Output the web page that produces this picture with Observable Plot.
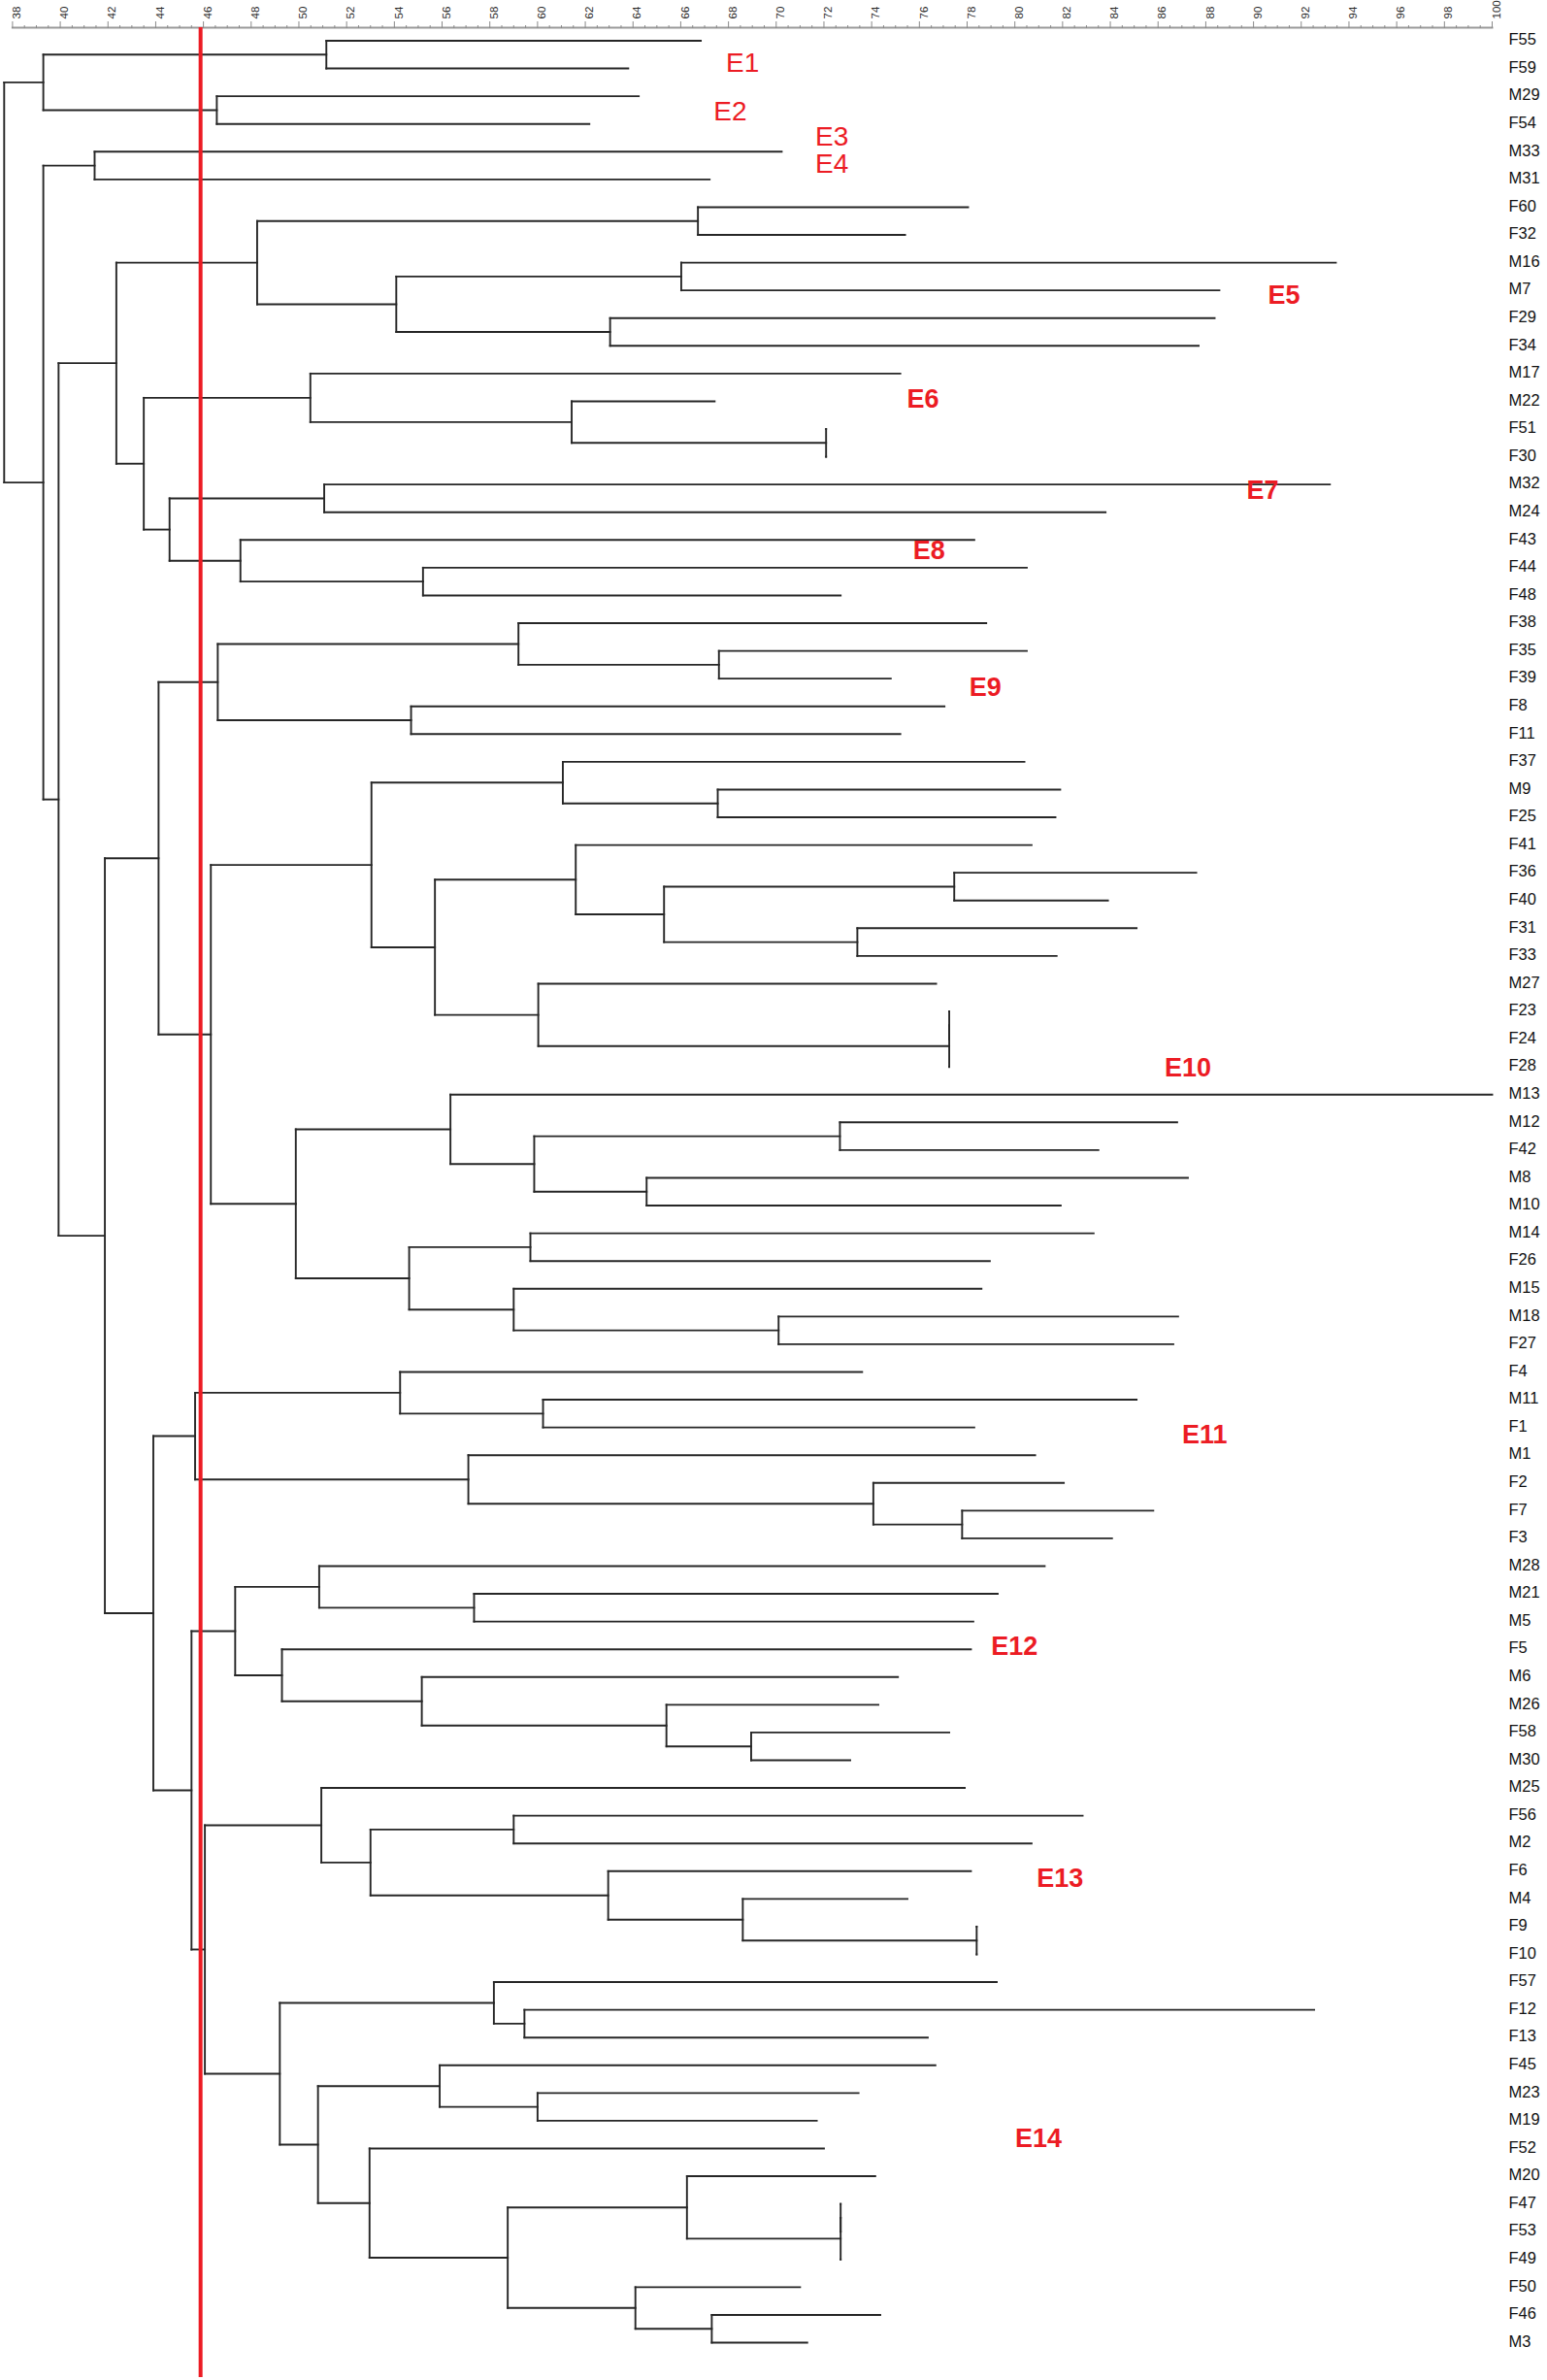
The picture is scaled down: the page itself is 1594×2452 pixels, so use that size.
<!DOCTYPE html>
<html><head><meta charset="utf-8">
<script src="https://cdn.jsdelivr.net/npm/d3@7"></script>
<script src="https://cdn.jsdelivr.net/npm/@observablehq/plot@0.6"></script>
<style>html,body{margin:0;padding:0;background:#fff;} svg{display:block}</style>
</head><body><div id="chart"></div>
<script>
// ---- data ----
const leaves = ["F55","F59","M29","F54","M33","M31","F60","F32","M16","M7","F29","F34","M17","M22","F51","F30",
"M32","M24","F43","F44","F48","F38","F35","F39","F8","F11","F37","M9","F25","F41","F36","F40","F31","F33","M27",
"F23","F24","F28","M13","M12","F42","M8","M10","M14","F26","M15","M18","F27","F4","M11","F1","M1","F2","F7","F3",
"M28","M21","M5","F5","M6","M26","F58","M30","M25","F56","M2","F6","M4","F9","F10","F57","F12","F13","F45","M23",
"M19","F52","M20","F47","F53","F49","F50","F46","M3"];
const leafEnd = [66.84,63.8,64.24,62.17,70.23,67.21,78.04,75.4,93.45,88.57,88.37,87.7,75.2,67.42,72.09,72.09,
93.2,83.8,78.3,80.5,72.7,78.8,80.5,74.8,77.05,75.2,80.4,81.9,81.7,80.7,87.6,83.9,85.1,81.75,76.7,
77.25,77.25,77.25,100,86.8,83.5,87.25,81.92,83.3,78.95,78.6,86.84,86.64,73.6,85.1,78.3,80.85,82.05,85.8,84.07,
81.25,79.28,78.26,78.16,75.1,74.28,77.25,73.1,77.9,82.84,80.7,78.16,75.5,78.4,78.4,79.24,92.54,76.35,76.67,73.45,
71.7,72.0,74.15,72.7,72.7,72.7,71.0,74.36,71.3];
// merges: [child A, child B, similarity]; "nK" = result of merges[K]
const merges = [
["F55","F59",51.15],["M29","F54",46.56],["n0","n1",39.29],["M33","M31",41.44],
["F60","F32",66.72],["M16","M7",66.02],["F29","F34",63.04],["n5","n6",54.08],["n4","n7",48.25],
["F51","F30",72.09],["M22","n9",61.43],["M17","n10",50.48],["M32","M24",51.06],["F44","F48",55.2],
["F43","n13",47.55],["n12","n14",44.58],["n11","n15",43.5],["n8","n16",42.35],
["F35","F39",67.6],["F38","n18",59.2],["F8","F11",54.7],["n19","n20",46.6],
["M9","F25",67.55],["F37","n22",61.06],["F36","F40",77.46],["F31","F33",73.4],["n24","n25",65.3],
["F41","n26",61.6],["F23","F24",77.25],["n28","F28",77.25],["M27","n29",60.03],["n27","n30",55.7],
["n23","n31",53.04],["M12","F42",72.67],["M8","M10",64.57],["n33","n34",59.86],["M13","n35",56.35],
["M14","F26",59.7],["M18","F27",70.1],["M15","n38",59.0],["n37","n39",54.62],["n36","n40",49.87],
["n32","n41",46.31],["n21","n42",44.12],
["M11","F1",60.23],["F4","n44",54.24],["F7","F3",77.79],["F2","n46",74.07],["M1","n47",57.1],["n45","n48",45.65],
["M21","M5",57.34],["M28","n50",50.85],["F58","M30",68.95],["M26","n52",65.4],["M6","n53",55.15],
["F5","n54",49.29],["n51","n55",47.33],
["F56","M2",59.0],["F9","F10",78.4],["M4","n58",68.6],["F6","n59",62.96],["n57","n60",53.0],["M25","n61",50.94],
["F12","F13",59.45],["F57","n63",58.17],["M23","M19",60.0],["F45","n65",55.9],["F47","F53",72.7],["n67","F49",72.7],
["M20","n68",66.26],["F46","M3",67.3],["F50","n70",64.1],["n69","n71",58.75],["F52","n72",52.96],
["n66","n73",50.8],["n64","n74",49.2],["n62","n75",46.06],["n56","n76",45.5],["n49","n77",43.9],
["n43","n78",41.87],["n17","n79",39.93],["n3","n80",39.29],["n2","n81",37.65]
];
const clusterNames = ["E1","E2","E3","E4","E5","E6","E7","E8","E9","E10","E11","E12","E13","E14"];
const clusterX =   [68.59,68.07,72.33,72.33,91.28,76.15,90.38,76.4,78.76,87.25,87.95,79.98,81.89,80.99];
const clusterRow = [0.79,2.54,3.48,4.46,9.19,12.93,16.22,18.39,23.33,37.05,50.28,57.91,66.27,75.65];
const clusterBold = [false,false,false,false,true,true,true,true,true,true,true,true,true,true];
const majorTicks = d3.range(38, 101, 2);
const minorTicks = d3.range(38, 100.001, 0.5).filter(v => v % 2 !== 0);
const cutoff = 45.88;

// ---- layout of the tree (segments in data units) ----
const pos = new Map();
leaves.forEach((n, i) => pos.set(n, {x: leafEnd[i], y: i}));
const segs = [];
merges.forEach(([a, b, h], k) => {
  const A = pos.get(a), B = pos.get(b);
  segs.push({x1: h, y1: A.y, x2: h, y2: B.y});
  segs.push({x1: h, y1: A.y, x2: A.x, y2: A.y});
  segs.push({x1: h, y1: B.y, x2: B.x, y2: B.y});
  pos.set("n" + k, {x: h, y: (A.y + B.y) / 2});
});
const clusters = clusterNames.map((name, i) => ({name, x: clusterX[i], row: clusterRow[i], bold: clusterBold[i]}));

const red = "#ec1c24";
const chart = Plot.plot({
  width: 1594, height: 2452,
  marginLeft: 12.4, marginRight: 57, marginTop: 28, marginBottom: 3,
  x: {domain: [38, 100], axis: null},
  y: {domain: [0, 83], range: [41.5, 2413], axis: null},
  style: {fontFamily: "'Liberation Sans', Arial, sans-serif", background: "#fff", overflow: "visible"},
  marks: [
    Plot.frame({anchor: "top", stroke: "#9a9a9a", strokeWidth: 2}),
    Plot.axisX(minorTicks, {anchor: "top", tickSize: 3, stroke: "#8a8a8a", tickFormat: () => ""}),
    Plot.axisX(majorTicks, {anchor: "top", tickSize: 7, stroke: "#8a8a8a", tickFormat: () => ""}),
    Plot.text(majorTicks, {x: d => d, frameAnchor: "top", text: d => String(d), rotate: -90,
      textAnchor: "start", dy: -9, fontSize: 11.5, fill: "#2a2a2a"}),
    Plot.link(segs, {x1: "x1", y1: "y1", x2: "x2", y2: "y2", stroke: "#262626", strokeWidth: 1.9, strokeLinecap: "square"}),
    Plot.text(leaves, {y: (d, i) => i, frameAnchor: "right", text: d => d, textAnchor: "start", dx: 17, dy: -1,
      fontSize: 16.5, fill: "#111"}),
    Plot.text(clusters.filter(d => !d.bold), {x: "x", y: "row", text: "name", fill: red, fontSize: 28}),
    Plot.text(clusters.filter(d => d.bold), {x: "x", y: "row", text: "name", fill: red, fontSize: 27, fontWeight: "bold"}),
    Plot.ruleX([cutoff], {stroke: red, strokeWidth: 4})
  ]
});
document.getElementById("chart").appendChild(chart);
</script>
</body></html>
